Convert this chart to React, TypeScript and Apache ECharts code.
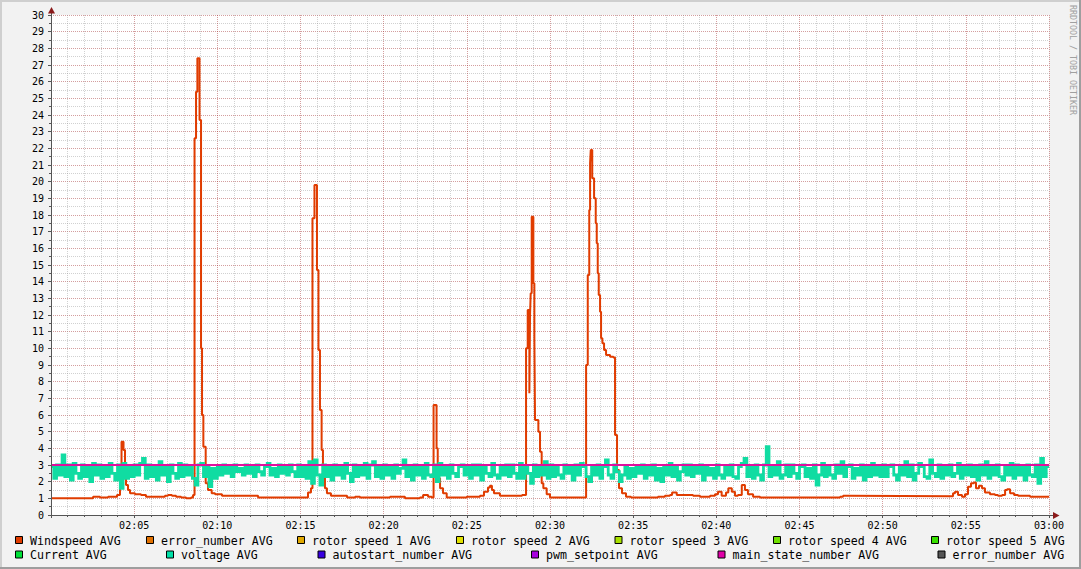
import React, { useEffect, useRef } from 'react';
import * as echarts from 'echarts';

// x axis: minutes after 02:00 (0..60)
const timeLabels = ['', '02:05', '02:10', '02:15', '02:20', '02:25', '02:30', '02:35', '02:40', '02:45', '02:50', '02:55', '03:00'];

// Windspeed AVG samples: [minute after 02:00, value]
const windSamples: [number, number][] = [
  [0, 1.0], [2.53, 1.1], [2.95, 1.05], [3.43, 1.1], [3.97, 1.2], [4.15, 3.0], [4.24, 4.4], [4.36, 3.9],
  [4.45, 2.4], [4.51, 1.8], [4.63, 1.5], [4.75, 1.3], [5.05, 1.25], [5.41, 1.2], [5.71, 1.1], [6.85, 1.15],
  [7.03, 1.2], [7.27, 1.15], [7.52, 1.1], [7.82, 1.05], [8.12, 1.0], [8.42, 1.05], [8.54, 1.2], [8.63, 22.6],
  [8.72, 25.4], [8.80, 27.4], [8.93, 23.7], [9.02, 10.0], [9.08, 6.0], [9.16, 4.1], [9.30, 1.9], [9.44, 1.5],
  [9.66, 1.3], [9.86, 1.25], [10.28, 1.15], [12.45, 1.05], [15.45, 1.35], [15.63, 1.6], [15.72, 17.8],
  [15.84, 19.8], [15.99, 14.7], [16.08, 9.9], [16.17, 6.3], [16.27, 3.9], [16.35, 2.9], [16.47, 1.6],
  [16.59, 1.3], [16.83, 1.15], [17.80, 1.05], [18.28, 1.1], [18.58, 1.05], [20.38, 1.1], [21.28, 1.0],
  [22.18, 1.05], [22.37, 1.2], [22.67, 1.1], [22.89, 1.05], [23.0, 6.6], [23.18, 4.0], [23.25, 2.2],
  [23.39, 1.6], [23.57, 1.3], [23.79, 1.05], [24.99, 1.1], [25.79, 1.15], [26.03, 1.4], [26.27, 1.65],
  [26.39, 1.75], [26.51, 1.5], [26.63, 1.3], [26.99, 1.15], [28.32, 1.2], [28.56, 10.0], [28.66, 12.3],
  [28.76, 7.3], [28.80, 12.0], [28.84, 13.3], [28.90, 17.9], [29.0, 13.9], [29.06, 10.6], [29.10, 5.7],
  [29.30, 5.0], [29.40, 3.8], [29.50, 1.9], [29.60, 1.6], [29.80, 1.25], [30.0, 1.05], [32.17, 9.0],
  [32.27, 14.4], [32.36, 18.3], [32.41, 21.1], [32.45, 21.9], [32.54, 20.2], [32.65, 19.0], [32.75, 17.5],
  [32.81, 16.3], [32.87, 14.5], [32.93, 13.2], [33.01, 12.2], [33.07, 10.6], [33.15, 10.3], [33.25, 9.9],
  [33.37, 9.6], [33.61, 9.5], [33.81, 9.45], [33.91, 4.8], [34.03, 2.7], [34.15, 1.6], [34.33, 1.3],
  [34.57, 1.1], [34.87, 1.05], [36.49, 1.1], [36.91, 1.15], [37.21, 1.2], [37.34, 1.35], [37.62, 1.2],
  [38.60, 1.15], [39.02, 1.1], [39.62, 1.15], [39.92, 1.25], [40.10, 1.4], [40.32, 1.15], [40.58, 1.35],
  [40.72, 1.6], [40.93, 1.4], [41.12, 1.15], [41.30, 1.2], [41.53, 1.8], [41.72, 1.5], [41.90, 1.25],
  [42.21, 1.1], [42.63, 1.05], [47.44, 1.1], [47.62, 1.15], [47.92, 1.12], [54.23, 1.3], [54.35, 1.4],
  [54.53, 1.2], [54.77, 1.1], [54.95, 1.25], [55.13, 1.7], [55.31, 1.9], [55.49, 1.95], [55.61, 1.6],
  [55.79, 1.75], [55.97, 1.6], [56.15, 1.35], [56.45, 1.25], [56.75, 1.2], [56.93, 1.15], [57.18, 1.2],
  [57.36, 1.5], [57.48, 1.55], [57.66, 1.3], [57.90, 1.2], [58.14, 1.15], [58.86, 1.1], [60, 1.1],
];

// voltage AVG, one value per 10 s from 02:00
const voltageValues = [
  2.9, 2.2, 3.0, 2.4, 3.6, 2.3, 3.0, 2.1, 3.1, 2.5, 2.2, 3.0, 2.3, 2.9, 2.0, 3.1, 2.4, 3.0, 2.2, 2.9, 2.3, 3.1, 2.5, 2.1, 3.0, 1.6, 3.1, 2.2, 2.9, 2.3,
  3.0, 2.4, 3.1, 3.4, 2.2, 3.0, 2.3, 2.9, 2.1, 3.2, 2.4, 2.9, 2.0, 3.0, 2.5, 2.2, 3.1, 2.3, 3.0, 2.4, 2.9, 2.2, 1.8, 3.0, 3.1, 2.3, 2.9, 1.7, 2.8, 2.2,
  2.9, 2.4, 3.0, 2.5, 2.9, 2.3, 3.0, 2.6, 2.8, 2.4, 3.0, 2.5, 2.9, 2.3, 3.0, 2.6, 2.4, 2.9, 3.1, 2.4, 2.8, 2.3, 3.0, 2.5, 2.9, 2.4, 3.0, 2.6, 2.3, 3.0,
  2.3, 2.9, 2.2, 3.2, 1.9, 3.3, 2.4, 1.8, 3.0, 2.3, 2.9, 2.1, 3.0, 2.4, 2.9, 2.2, 3.1, 2.5, 2.0, 3.0, 2.3, 2.9, 2.4, 3.1, 2.2, 3.0, 3.2, 2.3, 2.9, 2.2,
  3.0, 2.4, 2.9, 2.2, 3.0, 2.5, 2.8, 3.3, 2.3, 2.9, 2.1, 3.0, 2.4, 2.9, 2.2, 3.1, 2.4, 2.3, 3.0, 2.0, 3.1, 2.4, 2.9, 2.2, 3.0, 2.5, 2.3, 2.9, 3.0, 2.4,
  2.9, 2.2, 3.0, 2.4, 3.0, 2.1, 2.9, 2.5, 2.3, 3.1, 2.4, 2.2, 2.9, 2.4, 3.0, 2.3, 3.0, 2.5, 2.2, 3.1, 2.2, 2.9, 2.5, 1.9, 3.0, 2.3, 2.9, 2.4, 3.2, 2.2,
  3.0, 2.3, 2.9, 2.4, 2.2, 3.0, 2.5, 2.9, 2.1, 3.0, 2.4, 3.1, 2.9, 2.3, 2.0, 2.9, 2.4, 3.0, 2.2, 2.9, 3.3, 2.4, 2.2, 3.0, 2.6, 2.0, 2.4, 2.9, 2.2, 2.8,
  2.3, 2.9, 2.5, 3.0, 2.2, 2.9, 2.4, 3.0, 2.1, 2.8, 2.0, 2.9, 2.4, 3.1, 2.3, 2.9, 2.1, 2.6, 3.0, 2.4, 3.0, 2.3, 2.9, 2.5, 3.0, 2.1, 2.9, 2.4, 2.8, 2.2,
  3.0, 2.4, 2.2, 2.9, 2.4, 3.0, 2.3, 2.2, 2.9, 3.1, 3.4, 2.3, 2.9, 2.2, 3.0, 2.4, 2.1, 3.0, 4.1, 2.3, 2.9, 2.4, 3.2, 2.2, 2.4, 3.0, 2.3, 3.0, 2.5, 2.2,
  2.9, 3.0, 2.3, 2.8, 2.2, 3.0, 1.8, 2.4, 3.1, 2.3, 2.9, 2.4, 2.2, 3.0, 2.5, 3.2, 2.3, 2.9, 3.0, 2.2, 2.8, 2.4, 3.0, 2.1, 2.9, 2.3, 3.1, 2.4, 2.9, 2.3,
  3.0, 2.3, 2.9, 3.0, 2.4, 2.1, 2.9, 2.4, 3.2, 2.3, 3.0, 2.1, 2.5, 3.1, 2.9, 2.3, 2.2, 3.3, 2.5, 2.3, 3.0, 2.2, 2.9, 2.4, 3.0, 2.3, 2.5, 3.1, 2.2, 2.9,
  2.4, 3.0, 2.3, 2.9, 2.1, 3.0, 2.4, 3.2, 2.2, 2.9, 2.4, 3.0, 2.3, 2.1, 2.9, 2.4, 3.1, 2.2, 3.0, 2.4, 2.9, 2.1, 3.0, 2.4, 2.3, 3.0, 1.9, 3.4, 2.3, 2.9,
];
const voltageStepMinutes = 1 / 6;

// main_state_number AVG
const mainStateSamples: [number, number][] = [[0, 3], [60, 3]];

const legendRow1 = ['Windspeed AVG', 'error_number AVG', 'rotor speed 1 AVG', 'rotor speed 2 AVG', 'rotor speed 3 AVG', 'rotor speed 4 AVG', 'rotor speed 5 AVG'];
const legendRow1Colors = ['#E03C00', '#E07000', '#E0A800', '#E0E000', '#A8E000', '#70E000', '#38E000'];
const legendRow2 = ['Current AVG', 'voltage AVG', 'autostart_number AVG', 'pwm_setpoint AVG', 'main_state_number AVG', 'error_number AVG'];
const legendRow2Colors = ['#00E038', '#00E0A8', '#3800E0', '#A800E0', '#E000A8', '#555555'];

const WIND_COLOR = '#E03C00';
const VOLT_COLOR = '#10DCA2';
const STATE_COLOR = '#E0109E';

export default function App() {
  const ref = useRef<HTMLDivElement>(null);
  useEffect(() => {
    const chart = echarts.init(ref.current!, null, { renderer: 'svg' });
    const mono = '"DejaVu Sans Mono", monospace';

    const row1X = [15.5, 146.5, 297.5, 456.5, 615, 773.5, 931.5];
    const row2X = [15.5, 166.5, 318, 531.5, 718, 938];
    const legendEls: any[] = [];
    const addLegend = (names: string[], colors: string[], xs: number[], y: number) => {
      names.forEach((n, i) => {
        legendEls.push({
          type: 'rect', shape: { x: xs[i], y, width: 7, height: 7 },
          style: { fill: colors[i], stroke: '#000', lineWidth: 1 }, z: 10,
        });
        legendEls.push({
          type: 'text', x: xs[i] + 14.5, y: y + 4,
          style: { text: n, fill: '#000', font: `11.6px ${mono}`, verticalAlign: 'middle', align: 'left' }, z: 10,
        });
      });
    };
    addLegend(legendRow1, legendRow1Colors, row1X, 536.5);
    addLegend(legendRow2, legendRow2Colors, row2X, 551);

    const voltageData = voltageValues.map((v, i) => [i * voltageStepMinutes, v]);
    voltageData.push([60, voltageValues[voltageValues.length - 1]]);

    const gridMinor = { color: 'rgba(140,140,140,0.4)', type: [1, 1] as any, width: 1 };
    const gridMajor = { color: 'rgba(160,40,40,0.45)', type: [1, 1] as any, width: 1 };

    chart.setOption({
      animation: false,
      backgroundColor: '#F2F2F2',
      grid: { left: 51, right: 32, top: 15, bottom: 54, show: true, backgroundColor: '#FFFFFF', borderWidth: 0 },
      xAxis: {
        type: 'value', min: 0, max: 60, interval: 5,
        axisLine: { show: false },
        axisTick: { show: true, length: 3, lineStyle: { color: '#555' } },
        minorTick: { show: true, splitNumber: 5, length: 2, lineStyle: { color: '#555' } },
        axisLabel: {
          formatter: (v: number) => timeLabels[Math.round(v / 5)] ?? '',
          fontFamily: mono, fontSize: 10, color: '#000', margin: 5,
        },
        splitLine: { show: true, lineStyle: gridMajor },
        minorSplitLine: { show: true, lineStyle: gridMinor },
      },
      yAxis: {
        type: 'value', min: 0, max: 30, interval: 1,
        axisLine: { show: false },
        axisTick: { show: true, length: 3, lineStyle: { color: '#555' } },
        minorTick: { show: true, splitNumber: 2, length: 2, lineStyle: { color: '#555' } },
        axisLabel: { fontFamily: mono, fontSize: 10, color: '#000', margin: 7 },
        splitLine: { show: true, lineStyle: gridMajor },
        minorSplitLine: { show: true, lineStyle: gridMinor },
      },
      series: [
        {
          name: 'Windspeed AVG', type: 'line', step: 'end', data: windSamples, symbol: 'none',
          lineStyle: { color: WIND_COLOR, width: 2 }, z: 2, silent: true,
        },
        {
          name: 'voltage AVG', type: 'line', step: 'end', data: voltageData, symbol: 'none',
          lineStyle: { color: VOLT_COLOR, width: 2.8, join: 'miter' }, z: 3, silent: true,
        },
        {
          name: 'main_state_number AVG', type: 'line', data: mainStateSamples, symbol: 'none',
          lineStyle: { color: STATE_COLOR, width: 2 }, z: 4, silent: true,
        },
      ],
      graphic: [
        // frame shading
        { type: 'line', shape: { x1: 0, y1: 1, x2: 1081, y2: 1 }, style: { stroke: '#CFCFCF', lineWidth: 2 }, z: 20 },
        { type: 'line', shape: { x1: 1, y1: 0, x2: 1, y2: 569 }, style: { stroke: '#CFCFCF', lineWidth: 2 }, z: 20 },
        { type: 'line', shape: { x1: 0, y1: 568, x2: 1081, y2: 568 }, style: { stroke: '#9E9E9E', lineWidth: 2 }, z: 20 },
        { type: 'line', shape: { x1: 1080, y1: 0, x2: 1080, y2: 569 }, style: { stroke: '#9E9E9E', lineWidth: 2 }, z: 20 },
        // axes
        { type: 'line', shape: { x1: 51.5, y1: 515.5, x2: 51.5, y2: 12 }, style: { stroke: '#555', lineWidth: 1 }, z: 20 },
        { type: 'line', shape: { x1: 51, y1: 515.5, x2: 1054, y2: 515.5 }, style: { stroke: '#555', lineWidth: 1 }, z: 20 },
        { type: 'polygon', shape: { points: [[48, 13.5], [55, 13.5], [51.5, 7]] }, style: { fill: '#8B1A1A' }, z: 21 },
        { type: 'polygon', shape: { points: [[1053, 512], [1053, 519], [1059.5, 515.5]] }, style: { fill: '#8B1A1A' }, z: 21 },
        // watermark
        {
          type: 'text', x: 1073, y: 5, rotation: -Math.PI / 2,
          style: { text: 'RRDTOOL / TOBI OETIKER', fill: '#A0A0A0', font: `8.3px ${mono}`, align: 'left', verticalAlign: 'middle' },
          z: 20,
        },
        ...legendEls,
      ],
    });
    return () => chart.dispose();
  }, []);
  return <div ref={ref} style={{ position: 'absolute', left: 0, top: 0, width: 1081, height: 569 }} />;
}
